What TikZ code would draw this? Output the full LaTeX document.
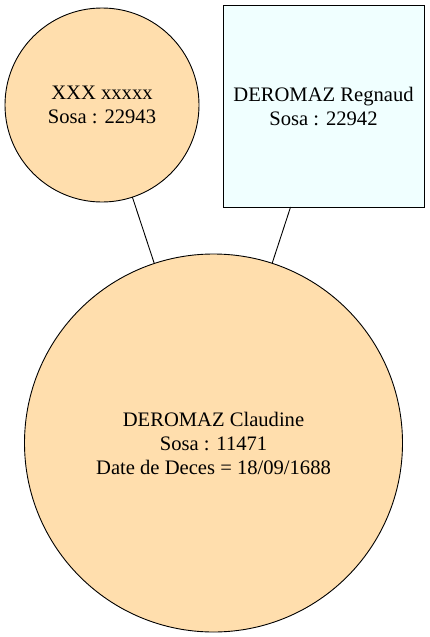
\documentclass[tikz,border=0pt]{standalone}
\usepackage{fontspec}
\setmainfont{Liberation Serif}
\newfontfamily\namefont{Liberation Serif}
\usetikzlibrary{positioning}
\definecolor{womanfill}{RGB}{255,222,173}
\definecolor{manfill}{RGB}{240,255,255}
\tikzset{
  link/.style={black,line width=0.9pt},
  person/.style={draw=black,line width=0.9pt,inner sep=0pt,outer sep=0pt,
                 align=center,font=\namefont\fontsize{20.6}{24}\selectfont},
  woman/.style={person,circle,fill=womanfill},
  man/.style={person,rectangle,fill=manfill},
}
\begin{document}
\begin{tikzpicture}[x=1pt,y=-1pt]
  \path[use as bounding box] (0,0) rectangle (430,637);

  \node[woman,minimum size=194pt] (MOTHER) at (102,105)
    {XXX xxxxx\\Sosa : 22943};
  \node[man,minimum width=201pt,minimum height=202pt] (FATHER) at (323.5,106)
    {DEROMAZ Regnaud\\Sosa : 22942};
  \node[woman,minimum size=378pt] (CHILD) at (213.5,443)
    {DEROMAZ Claudine\\Sosa : 11471\\Date de Deces = 18/09/1688};

  \draw[link] (MOTHER)--(CHILD);
  \draw[link] (FATHER)--(CHILD);
\end{tikzpicture}
\end{document}
